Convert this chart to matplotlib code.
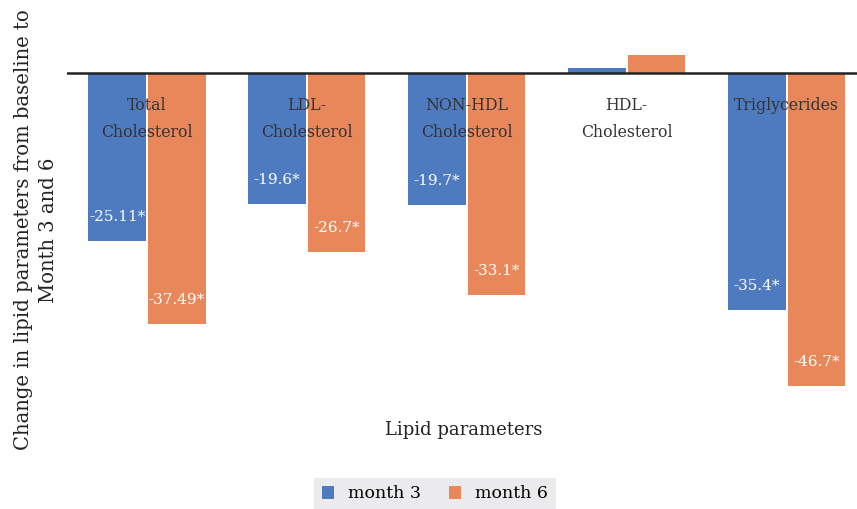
import numpy as np
import matplotlib.pyplot as plt

categories = ["Total\nCholesterol", "LDL-\nCholesterol", "NON-HDL\nCholesterol",
              "HDL-\nCholesterol", "Triglycerides"]
month3 = [-25.11, -19.6, -19.7, 0.7, -35.4]
month6 = [-37.49, -26.7, -33.1, 2.6, -46.7]
labels3 = ["-25.11*", "-19.6*", "-19.7*", "", "-35.4*"]
labels6 = ["-37.49*", "-26.7*", "-33.1*", "", "-46.7*"]

blue = "#4e7bbf"
orange = "#e8875a"

plt.rcParams['font.family'] = ['DejaVu Serif']

fig = plt.figure(figsize=(8.57, 5.09), dpi=100)
ax = fig.add_axes([67 / 857, 1 - 395 / 509, 790 / 857, 355 / 509])

x = np.arange(len(categories))
w = 0.36
g = 0.0125
b3 = ax.bar(x - w / 2 - g / 2, month3, w, color=blue, label="month 3")
b6 = ax.bar(x + w / 2 + g / 2, month6, w, color=orange, label="month 6")

for bars, labs in ((b3, labels3), (b6, labels6)):
    for r, t in zip(bars, labs):
        if t:
            ax.text(r.get_x() + r.get_width() / 2, r.get_height() + 3.6, t,
                    ha="center", va="center", color="white", fontsize=11)

for xi, c in zip(x, categories):
    ax.text(xi, -3.6, c, ha="center", va="top", fontsize=11.3,
            color="#333333", linespacing=1.75)

ax.axhline(0, color="#222222", lw=1.8)
ax.set_xlim(-0.5, 4.44)
ax.set_ylim(-48, 4.9)
for s in ax.spines.values():
    s.set_visible(False)
ax.set_xticks([])
ax.set_yticks([])

fig.text(464 / 857, 1 - 430 / 509, "Lipid parameters", ha="center", va="center",
         fontsize=13, color="#222222")
fig.text(36 / 857, 1 - 230 / 509,
         "Change in lipid parameters from baseline to\nMonth 3 and 6",
         rotation=90, ha="center", va="center", fontsize=14.1,
         color="#222222", linespacing=1.35)

leg = fig.legend(handles=[b3, b6], loc="center", bbox_to_anchor=(435 / 857, 1 - 494 / 509),
                 ncol=2, frameon=True, fontsize=12.5, handlelength=0.7,
                 handleheight=0.7, columnspacing=1.6, borderpad=0.45,
                 borderaxespad=0)
leg.get_frame().set_facecolor("#e6e7e9")
leg.get_frame().set_edgecolor("none")
leg.get_frame().set_boxstyle("square", pad=0)

fig.savefig("out.png", dpi=100)
